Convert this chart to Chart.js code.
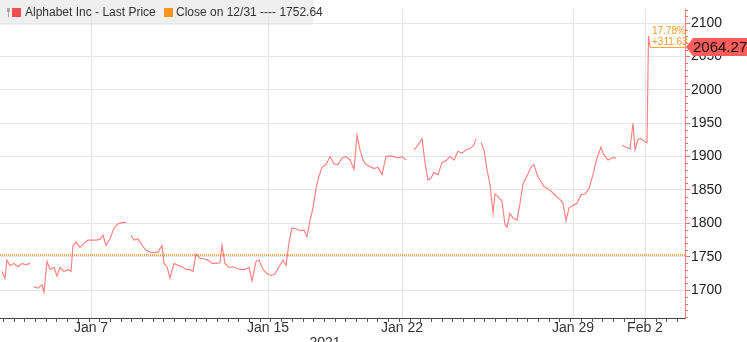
<!DOCTYPE html>
<html>
<head>
<meta charset="utf-8">
<script src="https://cdn.jsdelivr.net/npm/chart.js@4/dist/chart.umd.min.js"></script>
<style>
html,body{margin:0;padding:0;background:#fff;}
#wrap{width:747px;height:342px;position:relative;}
</style>
</head>
<body>
<div id="wrap"><canvas id="c" width="747" height="342"></canvas></div>
<script>
// ---- data ----
const sessionIdx = [2,5,7,10,14,18,22,26,30,32,34,38,42,44,47,50,54,57,60,64,68,71,73,76,80,84,88,92,96,100,103,106,110,114,118,122,126,129,131,134,138,142,146,150,154,158,162,164,167,170,174,178,182,186,190,193,196,200,204,208,212,216,220,222,225,229,233,237,241,245,249,252,256,259,263,267,271,275,279,283,286,289,292,296,300,304,307,310,313,316,319,322,326,330,334,338,342,346,350,354,357,360,363,366,370,374,378,382,386,390,394,398,402,406,410,414,418,422,425,428,431,434,438,442,446,450,454,458,462,466,470,474,476,479,481,484,487,490,493,495,498,502,505,507,510,513,517,520,523,527,531,534,537,540,544,548,552,556,560,563,566,569,573,577,581,585,589,593,597,601,604,608,612,616,619,622,626,630,633,635,638,641,644,647,648.5,650];
const price = [1728,1718,1745,1737,1740,1735,1740,1738,1740,null,1705,1703,1708,1697,1743,1731,1734,1721,1734,1728,1731,1728,1767,1772,1764,1770,1775,1775,1775,1776,1782,1767,1777,1793,1799,1801,1801,null,1782,1775,1777,1767,1760,1757,1756,1757,1767,1740,1735,1718,1740,1737,1735,1731,1731,1728,1754,1748,1747,1745,1740,1740,1741,1767,1740,1734,1735,1732,1731,1731,1734,1714,1743,1745,1731,1725,1722,1724,1735,1745,1737,1772,1793,1792,1789,1790,1780,1804,1823,1852,1871,1884,1888,1900,1889,1888,1898,1900,1895,1881,1932,1910,1895,1888,1885,1882,1884,1873,1900,1901,1900,1898,1900,1895,null,1910,1917,1927,1891,1865,1868,1876,1873,1891,1894,1900,1895,1908,1905,1910,1912,1917,1927,null,1921,1910,1880,1858,1815,1844,1840,1833,1798,1794,1815,1808,1805,1830,1859,1871,1884,1888,1873,1865,1855,1852,1847,1841,1836,1830,1804,1823,1827,1830,1843,1844,1852,1873,1898,1914,1902,1895,1898,1898,null,1917,1914,1912,1950,1910,1926,1927,1923,1921,2081,2064.27];
const closeLabel = 'Close on 12/31';
const closePrev = 1752.64;
const lastPrice = 2064.27;
const seriesName = 'Alphabet Inc - Last Price';
const dateLabels = ['Jan 7','Jan 15','Jan 22','Jan 29','Feb 2'];
const datePos = [91,268,402,573,645];
const yTicks = [1700,1750,1800,1850,1900,1950,2000,2050,2100];
const yearLabel = '2021';
const xRange = [0,685];
const yRange = [1658.3,2120.4];

const FONT = '"Liberation Sans", Arial, sans-serif';

const pts = sessionIdx.map((x,i)=>({x:x,y:price[i]}));
const closePts = xRange.map(x=>({x:x,y:closePrev}));

const deco = {
  id:'deco',
  beforeDraw(chart){
    const ctx = chart.ctx;
    ctx.save();
    ctx.fillStyle='#fff';
    ctx.fillRect(0,0,chart.width,chart.height);
    ctx.fillStyle='#efefef';
    ctx.fillRect(0,0,313,25);
    ctx.restore();
  },
  afterDraw(chart){
    const ctx = chart.ctx;
    const ys = chart.scales.y, xs = chart.scales.x;
    const ca = chart.chartArea;
    ctx.save();
    // minor y ticks
    ctx.strokeStyle='#ff6b6b';
    ctx.lineWidth=1;
    for(let v=1660; v<=2120; v+=10){
      if(v%50===0) continue;
      const py = Math.round(ys.getPixelForValue(v))+0.5;
      ctx.beginPath(); ctx.moveTo(ca.right, py); ctx.lineTo(ca.right+3, py); ctx.stroke();
    }
    // minor x ticks
    ctx.strokeStyle='#555';
    for(let v=3; v<xRange[1]; v+=10.7){
      const px = Math.round(xs.getPixelForValue(v))+0.5;
      ctx.beginPath(); ctx.moveTo(px, ca.bottom); ctx.lineTo(px, ca.bottom+4); ctx.stroke();
    }
    // year label
    ctx.fillStyle='#333';
    ctx.font='14px '+FONT;
    ctx.textAlign='center';
    ctx.textBaseline='top';
    ctx.fillText(yearLabel, xs.getPixelForValue(325), 336);
    // legend
    ctx.textAlign='left';
    ctx.textBaseline='middle';
    ctx.fillStyle='#aaa';
    ctx.fillRect(7,8,3,4);
    ctx.fillRect(8,12,1,5);
    ctx.fillStyle='#f24e4e';
    ctx.fillRect(12,8,9,9);
    ctx.fillStyle='#333';
    ctx.font='12px '+FONT;
    ctx.fillText(seriesName, 25, 13);
    ctx.fillStyle='#f7931e';
    ctx.fillRect(164,8,9,9);
    ctx.fillStyle='#333';
    ctx.fillText(closeLabel+' ---- '+closePrev.toFixed(2), 176, 13);
    // annotation
    const ly = ys.getPixelForValue(lastPrice);
    const lx = xs.getPixelForValue(sessionIdx[sessionIdx.length-1]);
    ctx.strokeStyle='#f7a440';
    ctx.beginPath(); ctx.moveTo(lx, Math.round(ly)+0.5); ctx.lineTo(ca.right, Math.round(ly)+0.5); ctx.stroke();
    ctx.fillStyle='#f39a2e';
    ctx.font='10px '+FONT;
    const diff = lastPrice-closePrev;
    ctx.fillText((diff/closePrev*100).toFixed(2)+'%', lx+2, ly-16);
    ctx.fillText('+'+diff.toFixed(2), lx+2, ly-5);
    // price tag
    ctx.fillStyle='#ff5c5c';
    ctx.beginPath();
    ctx.moveTo(ca.right+1, ly);
    ctx.lineTo(ca.right+8, ly-9);
    ctx.lineTo(747, ly-9);
    ctx.lineTo(747, ly+9);
    ctx.lineTo(ca.right+8, ly+9);
    ctx.closePath();
    ctx.fill();
    ctx.fillStyle='#111';
    ctx.font='15px '+FONT;
    ctx.textAlign='left';
    ctx.fillText(lastPrice.toFixed(2), ca.right+8, ly+1);
    ctx.restore();
  }
};

new Chart(document.getElementById('c'), {
  type:'line',
  data:{
    datasets:[
      {data:pts, borderColor:'rgba(255,100,100,0.8)', borderWidth:1.2, pointRadius:0, spanGaps:false, tension:0, order:1},
      {data:closePts, borderColor:'#f5a343', borderWidth:2, borderDash:[1,1], pointRadius:0, order:2}
    ]
  },
  options:{
    responsive:false,
    animation:false,
    layout:{padding:0},
    plugins:{legend:{display:false}, tooltip:{enabled:false}},
    scales:{
      x:{
        type:'linear', min:xRange[0], max:xRange[1],
        afterBuildTicks(s){ s.ticks = datePos.map(v=>({value:v})); },
        afterFit(s){ s.height = 342-318; },
        ticks:{
          callback(v){ const i=datePos.indexOf(v); return i>=0?dateLabels[i]:''; },
          color:'#333', font:{family:FONT, size:14}, padding:2, maxRotation:0, autoSkip:false
        },
        grid:{color:'#e4e4e4', tickLength:0, drawTicks:false},
        border:{color:'#444', width:1}
      },
      y:{
        position:'right', min:yRange[0], max:yRange[1],
        afterBuildTicks(s){ s.ticks = yTicks.map(v=>({value:v})); },
        afterFit(s){ s.width = 747-685; },
        ticks:{color:'#222', font:{family:FONT, size:14}, padding:1, callback(v){ return String(v); }},
        grid:{color:'#e6e6e6', tickColor:'#ff6b6b', tickLength:5},
        border:{color:'#ff8585', width:1}
      }
    }
  },
  plugins:[deco]
});
</script>
</body>
</html>
